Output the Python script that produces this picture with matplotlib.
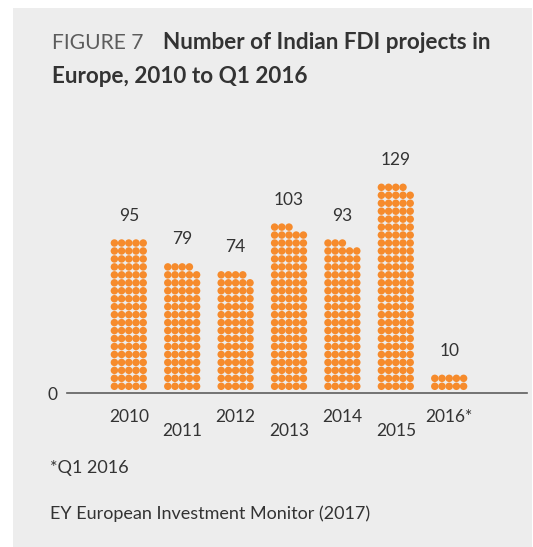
import matplotlib
matplotlib.use("Agg")
import matplotlib.pyplot as plt
from matplotlib.patches import Rectangle

# ---- data ----
years = ["2010", "2011", "2012", "2013", "2014", "2015", "2016*"]
projects = [95, 79, 74, 103, 93, 129, 10]
title_prefix = "FIGURE 7"
title_main_1 = "Number of Indian FDI projects in"
title_main_2 = "Europe, 2010 to Q1 2016"
footnote = "*Q1 2016"
source = "EY European Investment Monitor (2017)"

W, H = 533, 547
DPI = 100
PER_ROW = 5
ORANGE = "#F68B2C"
BG = "#EDEDED"
TXT = "#333333"

plt.rcParams["font.family"] = ["Lato", "DejaVu Sans"]

fig = plt.figure(figsize=(W / DPI, H / DPI), dpi=DPI, facecolor="white")
fig.patches.append(Rectangle((13 / W, 0), (532 - 13) / W, (H - 8) / H,
                             transform=fig.transFigure, facecolor=BG,
                             edgecolor="none", zorder=-10))

# axes geometry in pixels
base_px = 393.3
top_px = 130.0
left_px, right_px = 67.0, 527.0
row_pitch = 7.96          # px per dot row
col_pitch_px = 53.4       # px per category
dot_dx_px = 7.2           # px between dots in a row

ax = fig.add_axes([left_px / W, (H - base_px) / H,
                   (right_px - left_px) / W, (base_px - top_px) / H])
ax.set_facecolor("none")
x0 = -(128.8 - left_px) / col_pitch_px
ax.set_xlim(x0, x0 + (right_px - left_px) / col_pitch_px)
ax.set_ylim(0, (base_px - top_px) / row_pitch)

dx = dot_dx_px / col_pitch_px
row0 = 0.88
xs, ys = [], []
top_rows = []
for i, v in enumerate(projects):
    for k in range(v):
        r, c = divmod(k, PER_ROW)
        xs.append(i + (c - 2) * dx)
        ys.append(row0 + r)
    top_rows.append(row0 + (v - 1) // PER_ROW)

ax.scatter(xs, ys, s=29, color=ORANGE, edgecolors="none", zorder=3)

for i, (v, t) in enumerate(zip(projects, top_rows)):
    ax.annotate(str(v), (i, t), xytext=(0, 16.2), textcoords="offset points",
                ha="center", va="baseline", fontsize=12.5, color=TXT)

for i, y in enumerate(years):
    off = -20.7 if i % 2 == 0 else -30.7
    ax.annotate(y, (i, 0), xytext=(0, off), textcoords="offset points",
                ha="center", va="baseline", fontsize=12.5, color=TXT,
                annotation_clip=False)

for s in ["top", "right", "left"]:
    ax.spines[s].set_visible(False)
ax.spines["bottom"].set_color("#5E5E5E")
ax.spines["bottom"].set_linewidth(1.2)
ax.set_xticks([])
ax.set_yticks([0])
ax.set_yticklabels(["0"], fontsize=12.5, color=TXT)
ax.tick_params(axis="y", length=0, pad=7)

# titles
fig.text(51.7 / W, (H - 49) / H, title_prefix, fontsize=15.2, color="#5C5C5C",
         fontweight="normal", va="baseline", ha="left")
fig.text(163 / W, (H - 49) / H, title_main_1, fontsize=16.2, color=TXT,
         fontweight="bold", va="baseline", ha="left")
fig.text(51.7 / W, (H - 83) / H, title_main_2, fontsize=16.2, color=TXT,
         fontweight="bold", va="baseline", ha="left")

fig.text(50 / W, (H - 473) / H, footnote, fontsize=13, color=TXT,
         va="baseline", ha="left")
fig.text(50 / W, (H - 519) / H, source, fontsize=13, color=TXT,
         va="baseline", ha="left")

fig.savefig("out.png", dpi=DPI, facecolor="white")
